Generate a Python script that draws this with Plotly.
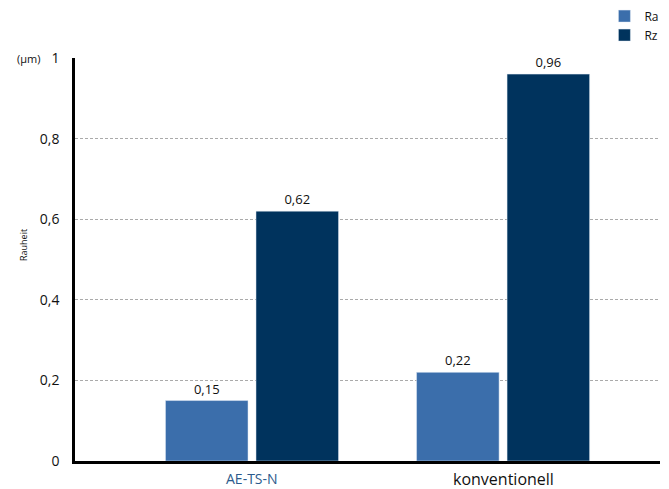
import plotly.graph_objects as go

categories = ["AE-TS-N", "konventionell"]
ra_values = [0.15, 0.22]
rz_values = [0.62, 0.96]
y_ticks = [0, 0.2, 0.4, 0.6, 0.8, 1]

fig = go.Figure()
fig.add_trace(go.Bar(name="Ra", x=categories, y=ra_values, marker_color="#3b6eab",
                     texttemplate="%{y:.2f}", textposition="outside",
                     textfont=dict(size=13, color="#111"), cliponaxis=False))
fig.add_trace(go.Bar(name="Rz", x=categories, y=rz_values, marker_color="#00335d",
                     texttemplate="%{y:.2f}", textposition="outside",
                     textfont=dict(size=13, color="#111"), cliponaxis=False))

PW, PH = 585, 403
fig.update_layout(
    width=661, height=481,
    margin=dict(l=67, r=9, t=50, b=28, autoexpand=False),
    plot_bgcolor="white", paper_bgcolor="white",
    separators=",.",
    font=dict(family="Open Sans", color="#111"),
    barmode="group", bargap=0.279, bargroupgap=0.088,
    showlegend=True,
    legend=dict(x=0.905, y=1.140, xanchor="left", yanchor="top",
                font=dict(size=12), itemwidth=30, tracegroupgap=0,
                bgcolor="rgba(0,0,0,0)"),
    xaxis=dict(type="category", range=[-0.705, 1.625], showticklabels=False,
               showline=True, linecolor="black", linewidth=3, showgrid=False,
               ticks=""),
    yaxis=dict(range=[0, 1], tickvals=y_ticks, showline=True, linecolor="black",
               linewidth=2.5, showgrid=True, gridcolor="#aaaaaa", griddash="3px,2px",
               gridwidth=1, ticks="", ticklabelstandoff=10,
               tickfont=dict(size=14), zeroline=False),
)

fig.add_annotation(x=categories[0], y=0, xref="x", yref="y", yshift=-6,
                   text=categories[0], showarrow=False, yanchor="top",
                   font=dict(size=14, color="#2c5a8c"))
fig.add_annotation(x=categories[1], y=0, xref="x", yref="y", yshift=-5,
                   text=categories[1], showarrow=False, yanchor="top",
                   font=dict(size=16, color="#111"))
fig.add_annotation(x=-60/PW, y=1.0, xref="paper", yref="paper", xanchor="left",
                   text="(µm)", showarrow=False, yanchor="middle",
                   font=dict(size=11, color="#111"))
fig.add_annotation(x=-52/PW, y=(461-245)/PH, xref="paper", yref="paper",
                   xanchor="center", yanchor="middle",
                   text="Rauheit", showarrow=False, textangle=-90,
                   font=dict(size=9, color="#111"))

fig.write_html("out.html")
